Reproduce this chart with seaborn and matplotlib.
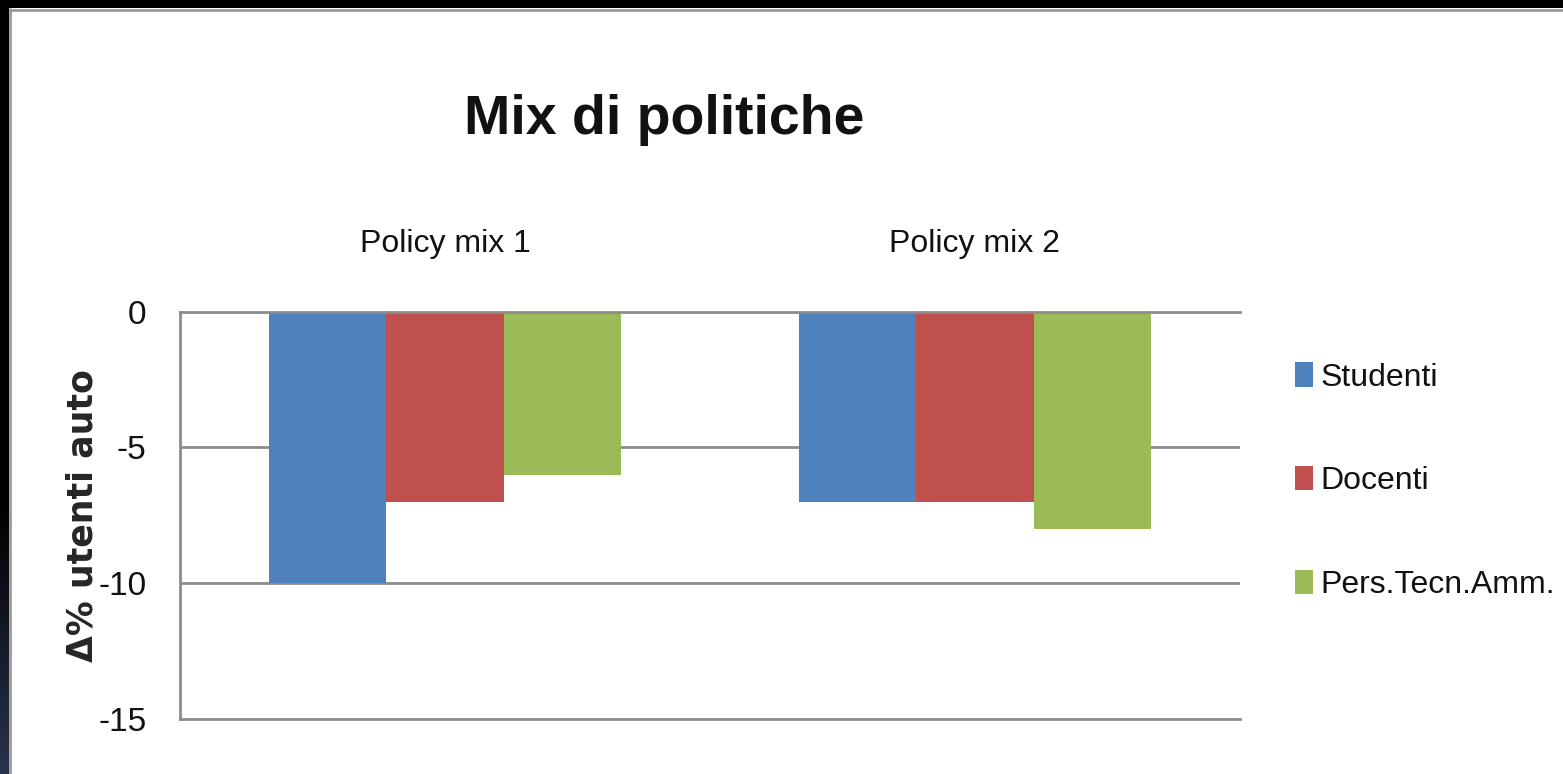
import numpy as np
import pandas as pd
import matplotlib
matplotlib.use("Agg")
import matplotlib.pyplot as plt
import seaborn as sns

# Chart data
mixes = ["Policy mix 1", "Policy mix 2"]
groups = ["Studenti", "Docenti", "Pers.Tecn.Amm."]
studenti = [-10, -7]
docenti = [-7, -7]
pers_tecn_amm = [-6, -8]
colors = ["#4F81BD", "#C0504D", "#9BBB59"]
y_ticks = [0, -5, -10, -15]

df = pd.DataFrame({
    "mix": mixes * 3,
    "gruppo": [g for g in groups for _ in mixes],
    "valore": studenti + docenti + pers_tecn_amm,
})

sns.set_theme(style="white")
plt.rcParams["font.family"] = ["Liberation Sans Narrow", "Liberation Sans", "DejaVu Sans"]

W, H = 1563, 774
fig = plt.figure(figsize=(W / 100, H / 100), dpi=100)
fig.patch.set_facecolor("white")

# Dark frame on the top and left edges
frame = fig.add_axes([0, 0, 1, 1], zorder=-5)
frame.set_xlim(0, W)
frame.set_ylim(H, 0)
frame.axis("off")
grad = np.linspace(0, 1, 256)
grad = np.clip((grad - 0.65) / 0.35, 0, 1)
top_rgb = np.array([0.0, 0.0, 0.0])
bot_rgb = np.array([0.16, 0.20, 0.30])
band = (top_rgb[None, :] * (1 - grad[:, None]) + bot_rgb[None, :] * grad[:, None])[:, None, :]
frame.imshow(band, extent=[0, 9, H, 0], aspect="auto", interpolation="bilinear")
frame.add_patch(plt.Rectangle((0, 0), W, 8, color="black", lw=0))
frame.plot([10, 10], [9, H], color="#9a9a9a", lw=2)
frame.plot([10, W], [9.5, 9.5], color="#9a9a9a", lw=2)

# Plot area
ax = fig.add_axes([180 / W, 1 - 719 / H, (1240 - 180) / W, (719 - 311.7) / H])
sns.barplot(data=df, x="mix", y="valore", hue="gruppo", hue_order=groups,
            order=mixes, palette=colors, width=0.663, gap=0, saturation=1,
            linewidth=0, ax=ax, legend=True)

ax.set_ylim(-15, 0)
ax.set_yticks(y_ticks)
ax.set_yticklabels([str(t) for t in y_ticks], fontsize=24, color="#111111")
ax.tick_params(axis="y", length=0, pad=24)
ax.xaxis.tick_top()
ax.tick_params(axis="x", length=0, pad=38, labelsize=23, colors="#111111")
ax.set_xlabel("")
ax.set_ylabel("Δ% utenti auto", fontsize=25, fontweight="bold",
              family=["DejaVu Sans"])
ax.yaxis.set_label_coords(-0.0757, 0.5)

grid_c = "#8c8c8c"
for y in y_ticks[1:3]:
    ax.axhline(y, color=grid_c, lw=2, zorder=0)
for side in ["top", "left", "bottom"]:
    ax.spines[side].set_color(grid_c)
    ax.spines[side].set_linewidth(2)
ax.spines["right"].set_visible(False)
ax.set_axisbelow(True)

# Legend at the right of the plot area
handles, labels = ax.get_legend_handles_labels()
leg = ax.legend(handles, labels, loc="center left", bbox_to_anchor=(1.04, 0.584),
                frameon=False, fontsize=23, handlelength=0.56, handleheight=0.8,
                handletextpad=0.22, labelspacing=2.3, borderaxespad=0)
for t in leg.get_texts():
    t.set_color("#111111")

fig.text(664 / W, 1 - 134 / H, "Mix di politiche", ha="center", va="baseline",
         fontsize=40, fontweight="bold", color="#111111")

fig.savefig("out.png", dpi=100, facecolor="white")
